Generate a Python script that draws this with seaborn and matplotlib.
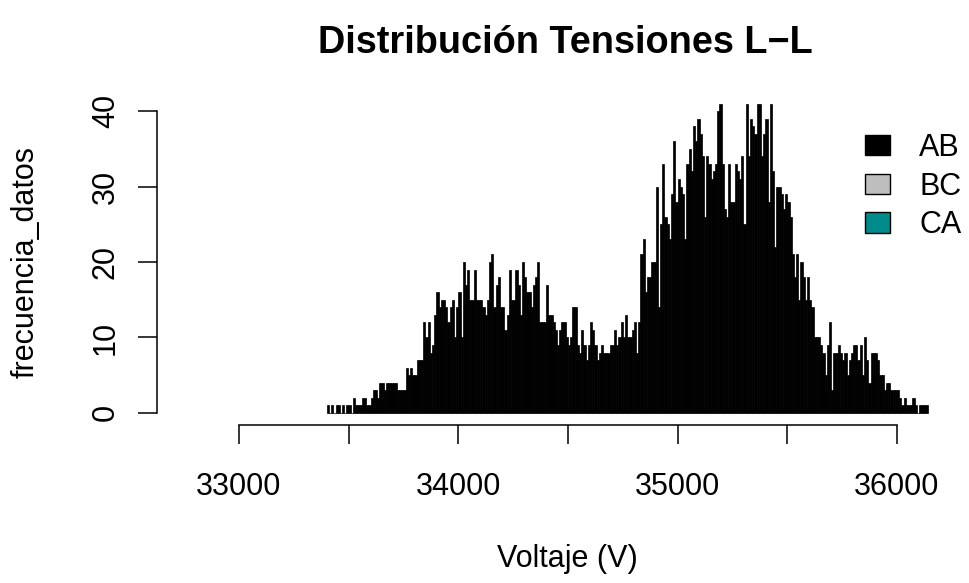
import numpy as np
import pandas as pd
import seaborn as sns
import matplotlib.pyplot as plt
from matplotlib.patches import Patch

# frecuencias de la tension AB, intervalos de 10 V desde 33400 V
inicio_v = 33400
ancho_v = 10
frec_ab = [
    1, 0, 1, 0, 1, 1, 0, 1, 0, 1, 1, 0, 2, 1, 1, 1, 2, 2, 1, 1,
    2, 3, 3, 2, 4, 4, 3, 4, 4, 4, 4, 4, 3, 3, 3, 3, 6, 5, 6, 5,
    5, 7, 7,
    7, 12, 10, 12, 8, 9, 13, 16, 14, 15, 15, 14, 12, 14, 15, 10, 14, 16, 10, 20,
    17, 19, 15, 15, 19, 15, 15, 15, 14, 13, 15, 20, 21, 14, 17, 18, 14, 14, 11, 13,
    19, 15, 15, 19, 17, 13, 20, 18, 16, 16,
    14, 17, 18, 20, 12, 12, 12, 17, 13, 13, 12, 11, 9, 11, 12, 12, 10, 9, 10, 14,
    14, 9, 8, 11, 9, 7, 9, 12, 11, 9, 7, 8, 9, 8, 8, 8, 9, 9, 11, 9,
    10, 12, 10, 13, 10, 10,
    11, 12, 8, 12, 21, 23, 16, 18, 18, 20, 20, 30, 14, 25, 33, 26, 25, 23, 29, 36,
    28, 31, 30, 29, 23, 33, 35, 32, 38, 36, 39, 37, 34, 26, 34, 33, 31, 32, 33, 40,
    41, 33, 27, 26, 33,
    28, 28, 33, 32, 31, 34, 25, 41, 34, 39, 38, 37, 41, 41, 34, 37, 39, 28, 41, 32,
    22, 30, 30, 29, 27, 29, 28, 26, 21, 18, 21, 15, 20, 18, 15, 18, 15, 14, 10, 10,
    10, 9, 8, 5, 9, 12,
    3, 8, 8, 9, 8, 7, 8, 5, 7, 8, 9, 9, 7, 9, 5, 10, 7, 4, 8, 8,
    8, 7, 5, 5, 3, 4, 4, 3, 3, 3, 3, 2, 1, 2, 1, 1, 1, 2, 1, 0,
    1, 1, 1, 1,
]
series = ["AB", "BC", "CA"]
colores = ["black", "#BEBEBE", "#008B8B"]
ticks_x = [33000, 33500, 34000, 34500, 35000, 35500, 36000]
etiquetas_x = ["33000", "", "34000", "", "35000", "", "36000"]
ticks_y = [0, 10, 20, 30, 40]

fin_v = inicio_v + ancho_v * len(frec_ab)
df = pd.DataFrame({"voltaje": inicio_v + ancho_v * np.arange(len(frec_ab)) + ancho_v / 2,
                   "frec": frec_ab})

sns.set_style("white")
plt.rcParams["font.family"] = ["Liberation Sans", "DejaVu Sans"]
plt.rcParams["text.color"] = "black"
plt.rcParams["xtick.color"] = "black"
plt.rcParams["ytick.color"] = "black"

W, H = 969, 583
fig = plt.figure(figsize=(W / 100, H / 100), dpi=100)
ax = fig.add_axes([157 / W, (H - 425) / H, (945 - 157) / W, (425 - 99) / H])

sns.histplot(data=df, x="voltaje", weights="frec", binwidth=ancho_v,
             binrange=(inicio_v, fin_v), color="black", edgecolor="black",
             linewidth=0.5, alpha=1, ax=ax)

ax.set_xlim(32626, 36219)
ax.set_ylim(-1.6, 41.6)
ax.set_xticks(ticks_x)
ax.set_xticklabels(etiquetas_x)
ax.set_yticks(ticks_y)
ax.set_yticklabels([str(t) for t in ticks_y])
ax.tick_params(axis="both", direction="out", length=14, width=1.1, labelsize=22,
               color="black", labelcolor="black", left=True, bottom=True)
ax.tick_params(axis="x", pad=20)
ax.tick_params(axis="y", pad=12, labelrotation=90)
for lab in ax.get_yticklabels():
    lab.set_va("center")
ax.set_xlabel("")
ax.set_ylabel("")
for s in ["top", "right"]:
    ax.spines[s].set_visible(False)
ax.spines["left"].set_bounds(0, 40)
ax.spines["bottom"].set_bounds(33000, 36000)
for s in ["left", "bottom"]:
    ax.spines[s].set_color("black")
    ax.spines[s].set_linewidth(1.1)

fig.text(565 / W, 1 - 43 / H, "Distribución Tensiones L−L", ha="center", va="center",
         fontsize=27.3, fontweight="bold")
fig.text(567 / W, 1 - 559 / H, "Voltaje (V)", ha="center", va="center", fontsize=22)
fig.text(26 / W, 1 - 262 / H, "frecuencia_datos", ha="center", va="center",
         fontsize=22, rotation=90)

handles = [Patch(facecolor=c, edgecolor="black", linewidth=1) for c in colores]
fig.legend(handles, series, loc="upper left", bbox_to_anchor=(865 / W, 1 - 133 / H),
           frameon=False, fontsize=22, handlelength=0.82, handleheight=0.65,
           handletextpad=0.95, labelspacing=0.28, borderpad=0, borderaxespad=0)

fig.savefig("out.png", dpi=100)
